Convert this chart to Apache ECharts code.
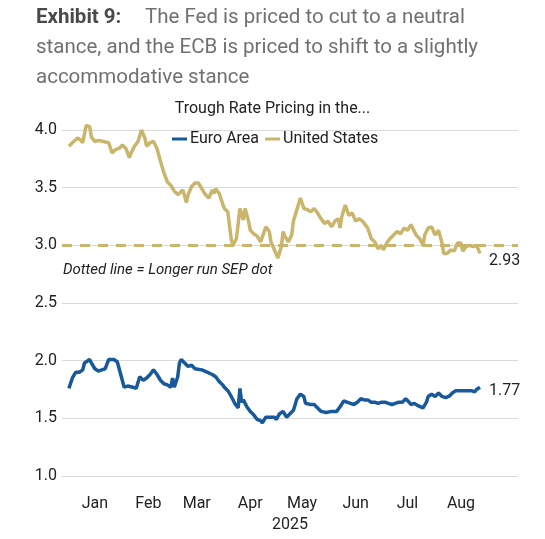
<!DOCTYPE html>
<html>
<head>
<meta charset="utf-8">
<script src="https://cdn.jsdelivr.net/npm/echarts@6/dist/echarts.min.js"></script>
<style>
html,body{margin:0;padding:0;background:#fff;}
#chart{width:545px;height:539px;}
</style>
</head>
<body>
<div id="chart"></div>
<script>
// ---- Data ----
const monthLabels = ['Jan','Feb','Mar','Apr','May','Jun','Jul','Aug'];
const yearLabel = '2025';
const sepDot = 3.0; // longer run SEP dot

const usDates = ['01-01','01-03','01-06','01-08','01-09','01-11','01-13','01-14','01-16','01-18','01-21','01-24','01-26','01-28','01-30',
'02-01','02-03','02-05','02-06','02-08','02-10','02-12','02-14','02-15','02-17','02-19','02-21','02-23','02-25','02-27',
'03-01','03-03','03-05','03-06','03-08','03-10','03-11','03-13','03-15','03-17','03-19','03-21','03-23','03-25','03-26','03-27','03-29','03-31',
'04-01','04-03','04-05','04-06','04-08','04-10','04-12','04-13','04-15','04-16','04-18','04-20','04-22','04-25','04-27','04-28','04-30',
'05-02','05-04','05-05','05-06','05-08','05-10','05-11','05-12','05-14','05-15','05-17','05-19','05-21','05-23','05-25','05-27','05-29','05-31',
'06-02','06-04','06-06','06-07','06-08','06-10','06-11','06-12','06-14','06-16','06-18','06-20','06-21','06-23','06-25','06-27','06-29',
'07-01','07-02','07-04','07-06','07-08','07-10','07-12','07-14','07-16','07-18','07-19','07-21','07-23','07-25','07-26','07-28','07-30',
'08-01','08-03','08-04','08-05','08-06','08-08','08-10','08-12','08-14','08-16','08-17','08-19','08-21','08-23','08-25','08-27'];
const usValues = [3.86,3.89,3.93,3.91,3.89,4.04,4.03,3.94,3.90,3.91,3.90,3.89,3.80,3.83,3.84,
3.87,3.84,3.76,3.80,3.86,3.90,4.00,3.93,3.86,3.89,3.90,3.84,3.73,3.63,3.55,
3.52,3.47,3.44,3.45,3.48,3.37,3.44,3.51,3.54,3.54,3.49,3.44,3.41,3.48,3.45,3.49,3.45,3.36,
3.32,3.29,3.05,3.00,3.06,3.32,3.22,3.32,3.21,3.13,3.10,3.08,3.03,3.16,3.12,3.03,2.96,
2.89,2.99,3.12,3.08,3.03,3.09,3.21,3.22,3.36,3.41,3.32,3.31,3.29,3.32,3.28,3.23,3.19,3.21,
3.16,3.21,3.23,3.15,3.25,3.35,3.34,3.26,3.28,3.21,3.23,3.21,3.21,3.15,3.06,3.03,2.97,
3.00,2.96,3.02,3.06,3.09,3.12,3.10,3.15,3.13,3.18,3.15,3.09,3.06,3.00,3.09,3.15,3.16,
3.09,3.13,3.12,3.02,2.93,2.93,2.96,2.95,3.02,3.02,2.95,2.99,3.00,2.99,3.00,2.93];

const euDates = ['01-01','01-03','01-05','01-07','01-09','01-10','01-13','01-14','01-16','01-18','01-20','01-22','01-24','01-25','01-27','01-29','01-31',
'02-02','02-04','02-05','02-07','02-09','02-11','02-13','02-15','02-17','02-19','02-21','02-23','02-25','02-27',
'03-01','03-02','03-03','03-05','03-06','03-07','03-09','03-11','03-13','03-15','03-16','03-19','03-22','03-25','03-27','03-29','03-31',
'04-01','04-03','04-05','04-07','04-09','04-10','04-11','04-12','04-14','04-16','04-18','04-20','04-22','04-23','04-25','04-26','04-28','04-30',
'05-01','05-03','05-05','05-07','05-09','05-11','05-13','05-15','05-17','05-18','05-21','05-23','05-25','05-27','05-30',
'06-02','06-05','06-07','06-09','06-11','06-13','06-15','06-17','06-19','06-21','06-23','06-25','06-27','06-29',
'07-01','07-03','07-05','07-07','07-09','07-11','07-13','07-15','07-17','07-18','07-20','07-22','07-25','07-27','07-28','07-30',
'08-01','08-03','08-05','08-07','08-09','08-11','08-13','08-15','08-17','08-18','08-20','08-21','08-22','08-24','08-25','08-27'];
const euValues = [1.76,1.85,1.90,1.90,1.92,1.98,2.01,1.98,1.93,1.91,1.92,1.93,2.01,2.00,2.01,1.99,1.88,
1.77,1.78,1.79,1.77,1.76,1.86,1.83,1.85,1.88,1.92,1.88,1.83,1.80,1.79,
1.77,1.85,1.77,1.86,1.98,2.01,1.98,1.95,1.96,1.93,1.94,1.92,1.90,1.88,1.86,1.82,1.79,
1.77,1.74,1.69,1.63,1.59,1.76,1.64,1.66,1.60,1.56,1.53,1.49,1.48,1.46,1.51,1.50,1.51,1.51,
1.49,1.54,1.56,1.51,1.54,1.57,1.67,1.71,1.69,1.63,1.62,1.62,1.59,1.56,1.55,
1.56,1.56,1.60,1.65,1.64,1.63,1.62,1.64,1.67,1.66,1.66,1.64,1.64,1.63,
1.64,1.64,1.63,1.62,1.63,1.64,1.64,1.67,1.64,1.62,1.63,1.61,1.59,1.64,1.69,1.71,
1.69,1.72,1.69,1.68,1.69,1.72,1.74,1.74,1.74,1.75,1.74,1.75,1.74,1.73,1.75,1.77];

// ---- Axis categories: every calendar day across the plotted span ----
function pad(n){return (n<10?'0':'')+n;}
const dayCats = [];
const startMs = Date.UTC(2024,11,28);
for (let i = 0; i <= 264; i++) {
  const d = new Date(startMs + i*86400000);
  dayCats.push(pad(d.getUTCMonth()+1) + '-' + pad(d.getUTCDate()));
}

const GOLD = '#c9b56b';
const BLUE = '#17599b';
const FONT = 'Roboto';

const chart = echarts.init(document.getElementById('chart'), null, {renderer:'canvas'});
chart.setOption({
  animation: false,
  backgroundColor: '#fff',
  textStyle: {fontFamily: FONT},
  grid: {left: 62, right: 27, top: 130, bottom: 63, containLabel: false},
  legend: {
    left: 172, top: 131, padding: 0,
    icon: 'rect', itemWidth: 15, itemHeight: 3, itemGap: 6,
    textStyle: {fontSize: 16, color: '#222', fontFamily: FONT, padding: [0,0,0,-2]},
    data: ['Euro Area', 'United States']
  },
  xAxis: {
    type: 'category',
    data: dayCats,
    boundaryGap: false,
    axisLine: {show: false},
    axisTick: {show: false},
    splitLine: {show: false},
    axisLabel: {
      interval: function(idx, val){ const m = +val.slice(0,2); return val.slice(3) === '16' && m >= 1 && m <= 8; },
      formatter: function(val){ return monthLabels[+val.slice(0,2)-1]; },
      color: '#222', fontSize: 16, margin: 20, fontFamily: FONT
    },
    name: yearLabel,
    nameLocation: 'middle',
    nameGap: 41,
    nameTextStyle: {color: '#222', fontSize: 16, fontFamily: FONT}
  },
  yAxis: {
    type: 'value',
    min: 1.0, max: 4.0, interval: 0.5,
    axisLine: {show: false},
    axisTick: {show: false},
    splitLine: {lineStyle: {color: '#d9d9d9', width: 1}},
    axisLabel: {formatter: v => v.toFixed(1), color: '#222', fontSize: 16, margin: 5, fontFamily: FONT}
  },
  graphic: [
    {type:'text', left: 36, top: 7, style:{text:'Exhibit 9:', fontSize: 20.5, fontWeight:'bold', fontFamily: FONT, fill:'#4a4a4a'}},
    {type:'text', left: 145, top: 7, style:{text:'The Fed is priced to cut to a neutral', fontSize: 20.5, fontFamily: FONT, fill:'#707070'}},
    {type:'text', left: 36, top: 37, style:{text:'stance, and the ECB is priced to shift to a slightly', fontSize: 20.5, fontFamily: FONT, fill:'#707070'}},
    {type:'text', left: 36, top: 67, style:{text:'accommodative stance', fontSize: 20.5, fontFamily: FONT, fill:'#707070'}},
    {type:'text', left: 'center', top: 101, style:{text:'Trough Rate Pricing in the...', fontSize: 16, fontFamily: FONT, fill:'#222'}},
    {type:'text', left: 63, top: 263, style:{text:'Dotted line = Longer run SEP dot', fontSize: 15, fontStyle:'italic', fontFamily: FONT, fill:'#222'}}
  ],
  series: [
    {
      name: 'Euro Area',
      type: 'line',
      clip: false,
      data: euDates.map((d,i) => [d, euValues[i]]),
      showSymbol: false,
      symbol: 'none',
      lineStyle: {color: BLUE, width: 3.5},
      itemStyle: {color: BLUE},
      endLabel: {show: true, formatter: p => p.value[1].toFixed(2), color:'#222', fontSize: 16, fontFamily: FONT, distance: 9, offset: [0, 4]},
      z: 3
    },
    {
      name: 'United States',
      type: 'line',
      clip: false,
      data: usDates.map((d,i) => [d, usValues[i]]),
      showSymbol: false,
      symbol: 'none',
      lineStyle: {color: GOLD, width: 3.5},
      itemStyle: {color: GOLD},
      endLabel: {show: true, formatter: p => p.value[1].toFixed(2), color:'#222', fontSize: 16, fontFamily: FONT, distance: 9, offset: [0, 8]},
      markLine: {
        silent: true,
        symbol: ['none','none'],
        label: {show: false},
        lineStyle: {color: GOLD, type: [10, 8], width: 3},
        data: [{yAxis: sepDot}]
      },
      z: 3
    }
  ]
});
</script>
</body>
</html>
